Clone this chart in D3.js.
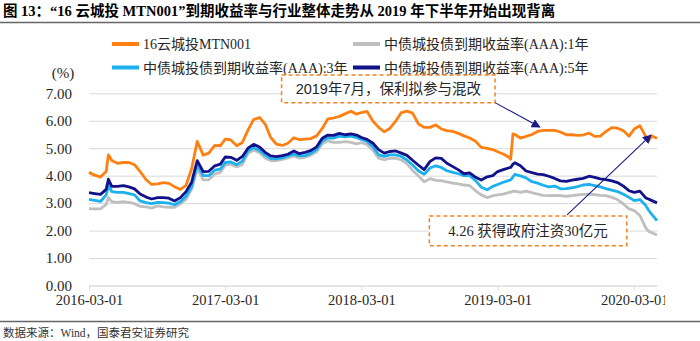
<!DOCTYPE html>
<html><head><meta charset="utf-8">
<script src="https://cdn.jsdelivr.net/npm/d3@7"></script>
<style>body{margin:0;background:#fff;} svg{display:block}</style>
</head><body><svg id="c" width="700" height="341"></svg>
<script>
// ---------------- data ----------------
const dates = [
 "2016-03-01","2016-03-16","2016-04-01","2016-04-16","2016-04-22","2016-05-01","2016-05-16","2016-06-01","2016-06-16","2016-07-01","2016-07-16","2016-08-01","2016-08-16","2016-09-01","2016-09-16","2016-10-01","2016-10-16","2016-11-01","2016-11-16","2016-12-01","2016-12-16",
 "2017-01-01","2017-01-16","2017-02-01","2017-02-16","2017-03-01","2017-03-16","2017-04-01","2017-04-16","2017-05-01","2017-05-16","2017-06-01","2017-06-16","2017-07-01","2017-07-16","2017-08-01","2017-08-16","2017-09-01","2017-09-16","2017-10-01","2017-10-16","2017-11-01","2017-11-16","2017-12-01","2017-12-16",
 "2018-01-01","2018-01-16","2018-02-01","2018-02-16","2018-03-01","2018-03-16","2018-04-01","2018-04-16","2018-05-01","2018-05-16","2018-06-01","2018-06-16","2018-07-01","2018-07-16","2018-08-01","2018-08-16","2018-09-01","2018-09-16","2018-10-01","2018-10-16","2018-11-01","2018-11-16","2018-12-01","2018-12-16",
 "2019-01-01","2019-01-16","2019-02-01","2019-02-16","2019-03-01","2019-03-16","2019-04-01","2019-04-05","2019-04-11","2019-04-16","2019-05-01","2019-05-16","2019-06-01","2019-06-16","2019-07-01","2019-07-16","2019-08-01","2019-08-16","2019-09-01","2019-09-16","2019-10-01","2019-10-16","2019-11-01","2019-11-16","2019-12-01","2019-12-16",
 "2020-01-01","2020-01-16","2020-02-01","2020-02-16","2020-03-01","2020-03-16","2020-04-01","2020-04-08","2020-04-16","2020-05-01"
];
const yieldMTN001 = [
 4.12,4.02,3.95,4.15,4.76,4.55,4.45,4.48,4.48,4.40,4.15,3.85,3.68,3.70,3.75,3.72,3.60,3.50,3.65,4.25,5.25,
 4.75,4.82,5.10,5.09,5.33,5.30,5.09,5.21,5.66,6.04,6.12,5.88,5.39,5.15,5.10,5.18,5.38,5.31,5.33,5.35,5.45,5.72,6.07,6.10,
 6.16,6.25,6.35,6.24,6.30,6.34,5.98,5.76,5.60,5.72,5.99,6.30,6.35,6.28,5.88,5.76,5.76,5.85,5.70,5.64,5.61,5.54,5.45,5.37,
 5.25,5.03,4.99,4.95,4.87,4.79,4.66,4.60,5.52,5.50,5.37,5.43,5.50,5.61,5.65,5.65,5.65,5.59,5.49,5.49,5.47,5.48,5.55,5.43,5.44,5.61,
 5.75,5.73,5.64,5.44,5.70,5.82,5.42,5.25,5.45,5.36
];
const yieldAAA1Y = [
 2.80,2.79,2.79,2.95,3.21,3.05,3.03,3.05,3.03,2.98,2.88,2.86,2.82,2.90,2.86,2.85,2.85,2.98,3.14,3.50,4.25,
 3.85,3.85,4.06,4.12,4.38,4.42,4.32,4.41,4.81,4.93,4.84,4.64,4.55,4.55,4.59,4.65,4.72,4.64,4.67,4.74,4.87,5.16,5.27,5.21,
 5.21,5.24,5.21,5.16,5.20,5.14,4.93,4.64,4.58,4.63,4.64,4.57,4.44,4.19,3.99,3.78,3.89,3.83,3.82,3.77,3.73,3.70,3.66,3.64,
 3.45,3.30,3.20,3.27,3.30,3.33,3.39,3.40,3.43,3.44,3.39,3.44,3.38,3.33,3.28,3.27,3.28,3.27,3.25,3.27,3.30,3.32,3.33,3.31,3.28,3.27,
 3.21,3.13,2.97,2.79,2.73,2.55,2.10,1.98,1.93,1.84
];
const yieldAAA3Y = [
 3.14,3.10,3.06,3.30,3.66,3.42,3.39,3.39,3.35,3.30,3.08,3.02,2.98,3.03,3.02,3.00,2.94,3.06,3.25,3.60,4.40,
 4.00,4.00,4.20,4.24,4.48,4.50,4.40,4.53,4.90,5.02,4.92,4.75,4.62,4.61,4.65,4.72,4.78,4.72,4.73,4.81,4.95,5.26,5.38,5.37,
 5.44,5.41,5.44,5.38,5.32,5.25,5.05,4.76,4.70,4.76,4.76,4.70,4.57,4.39,4.17,4.05,4.28,4.36,4.30,4.18,4.12,4.07,4.00,4.00,
 3.82,3.58,3.49,3.61,3.68,3.76,3.83,3.85,3.95,4.05,3.99,3.92,3.78,3.73,3.65,3.59,3.62,3.52,3.53,3.56,3.60,3.66,3.68,3.64,3.59,3.53,
 3.47,3.42,3.32,3.21,3.09,3.13,2.91,2.75,2.61,2.36
];
const yieldAAA5Y = [
 3.38,3.35,3.32,3.50,3.87,3.61,3.61,3.64,3.59,3.52,3.33,3.22,3.15,3.20,3.20,3.18,3.08,3.20,3.42,3.76,4.55,
 4.15,4.16,4.36,4.42,4.68,4.67,4.56,4.70,5.00,5.14,5.04,4.85,4.72,4.69,4.73,4.78,4.90,4.80,4.85,4.91,5.05,5.36,5.48,5.47,
 5.54,5.49,5.52,5.48,5.39,5.32,5.18,4.95,4.82,4.88,4.90,4.82,4.74,4.56,4.38,4.22,4.52,4.65,4.63,4.45,4.33,4.21,4.07,4.10,
 3.94,3.84,3.96,4.00,4.15,4.22,4.29,4.30,4.42,4.47,4.36,4.17,4.11,4.06,4.04,3.98,3.90,3.81,3.79,3.84,3.87,3.90,3.98,3.94,3.88,3.86,
 3.81,3.75,3.62,3.45,3.39,3.44,3.19,3.15,3.10,3.01
];
const seriesNames = ["16云城投MTN001","中债城投债到期收益率(AAA):1年","中债城投债到期收益率(AAA):3年","中债城投债到期收益率(AAA):5年"];
const yTickValues = [0,1,2,3,4,5,6,7];
const xTickLabels = ["2016-03-01","2017-03-01","2018-03-01","2019-03-01","2020-03-01"];
const xDomain = ["2016-03-01","2020-05-01"];
const titleText = "图 13：“16 云城投 MTN001”到期收益率与行业整体走势从 2019 年下半年开始出现背离";
const sourceText = "数据来源：Wind，国泰君安证券研究";
const notes = [
  {text:"2019年7月，保利拟参与混改", box:["2017-07-30","2019-02-22",7.67,6.66], from:["2019-02-22",6.66], to:["2019-06-22",5.77], font:"'Liberation Sans','Noto Sans CJK SC',sans-serif"},
  {text:"4.26 获得政府注资30亿元", box:["2018-08-30","2020-02-10",2.53,1.45], from:["2019-09-03",2.57], to:["2020-04-15",5.48], font:"'Liberation Serif','Noto Sans CJK SC',serif"}
];

// ---------------- layout ----------------
const colors = ["#FF8011","#BFBFBF","#1DB0EE","#11118A"];
const seriesValues = [yieldMTN001, yieldAAA1Y, yieldAAA3Y, yieldAAA5Y];
const parse = d3.utcParse("%Y-%m-%d");
const svg = d3.select("#c");
const X0 = 89, X1 = 657, Y0 = 285.5, Y7 = 93.3;
const x = d3.scaleUtc().domain(xDomain.map(parse)).range([X0, X1]);
const y = d3.scaleLinear().domain([0,7]).range([Y0, Y7]);
const serif = "'Liberation Serif','Times New Roman',serif";
const mixed = "'Liberation Serif','Noto Sans CJK SC',serif";

// title
svg.append("text").attr("x",3).attr("y",16).attr("font-family",mixed).attr("font-weight","bold")
  .attr("font-size",14.5).attr("fill","#000").text(titleText);
svg.append("line").attr("x1",0).attr("x2",700).attr("y1",22.5).attr("y2",22.5).attr("stroke","#666").attr("stroke-width",1.5);

// y grid + labels
const yAxis = svg.append("g").attr("transform",`translate(${X0},0)`)
  .call(d3.axisLeft(y).tickValues(yTickValues).tickSize(-(X1-X0)).tickPadding(17).tickFormat(d3.format(".2f")));
yAxis.select(".domain").remove();
yAxis.selectAll(".tick line").attr("stroke","#D9D9D9").attr("stroke-width",1);
yAxis.selectAll(".tick text").attr("font-family",serif).attr("font-size",15).attr("fill","#262626");

// x axis
svg.append("clipPath").attr("id","xclip").append("rect").attr("x",0).attr("y",0).attr("width",665).attr("height",341);
const xAxis = svg.append("g").attr("transform",`translate(0,${Y0})`).attr("clip-path","url(#xclip)")
  .call(d3.axisBottom(x).tickValues(xTickLabels.map(parse)).tickSize(5).tickSizeOuter(0).tickPadding(4).tickFormat(d3.utcFormat("%Y-%m-%d")));
xAxis.select(".domain").attr("stroke","#D9D9D9");
xAxis.selectAll(".tick line").attr("stroke","#D9D9D9");
xAxis.selectAll(".tick text").attr("font-family",serif).attr("font-size",14.5).attr("fill","#262626");

// (%)
svg.append("text").attr("x",63).attr("y",78).attr("text-anchor","middle").attr("font-family",serif)
  .attr("font-size",15).attr("fill","#262626").text("(%)");

// series
const line = d3.line().x((d,i)=>x(parse(dates[i]))).y(d=>y(d));
seriesValues.forEach((vals,k)=>{
  svg.append("path").datum(vals).attr("d",line).attr("fill","none")
    .attr("stroke",colors[k]).attr("stroke-width",2.8).attr("stroke-linejoin","round");
});

// legend
const legendPos = [[112,44],[353,44],[112,67.5],[353,67.5]];
seriesNames.forEach((n,k)=>{
  const [lx,ly] = legendPos[k];
  svg.append("line").attr("x1",lx).attr("x2",lx+27).attr("y1",ly).attr("y2",ly).attr("stroke",colors[k]).attr("stroke-width",4);
  svg.append("text").attr("x",lx+31).attr("y",ly+5).attr("font-family",mixed).attr("font-size",14).attr("fill","#262626").text(n);
});

// annotations
const defs = svg.append("defs");
defs.append("marker").attr("id","arr").attr("viewBox","0 0 10 10").attr("refX",9).attr("refY",5)
  .attr("markerWidth",9).attr("markerHeight",9).attr("markerUnits","userSpaceOnUse").attr("orient","auto")
  .append("path").attr("d","M0,0 L10,5 L0,10 z").attr("fill","#1A1A8C");
notes.forEach(nt=>{
  const bx0 = x(parse(nt.box[0])), bx1 = x(parse(nt.box[1])), by0 = y(nt.box[2]), by1 = y(nt.box[3]);
  svg.append("rect").attr("x",bx0).attr("y",by0).attr("width",bx1-bx0).attr("height",by1-by0)
    .attr("fill","#fff").attr("stroke","#F58220").attr("stroke-width",1.5).attr("stroke-dasharray","4,3");
  svg.append("text").attr("x",(bx0+bx1)/2).attr("y",(by0+by1)/2+5).attr("text-anchor","middle")
    .attr("font-family",nt.font).attr("font-size",14.5).attr("fill","#262626").text(nt.text);
  svg.append("line").attr("x1",x(parse(nt.from[0]))).attr("y1",y(nt.from[1]))
    .attr("x2",x(parse(nt.to[0]))).attr("y2",y(nt.to[1])).attr("stroke","#1A1A8C").attr("stroke-width",1.1)
    .attr("marker-end","url(#arr)");
});

// source
svg.append("line").attr("x1",0).attr("x2",700).attr("y1",321.5).attr("y2",321.5).attr("stroke","#666").attr("stroke-width",1.5);
svg.append("text").attr("x",3).attr("y",337).attr("font-family",mixed).attr("font-size",11.5).attr("fill","#333").text(sourceText);
</script></body></html>
